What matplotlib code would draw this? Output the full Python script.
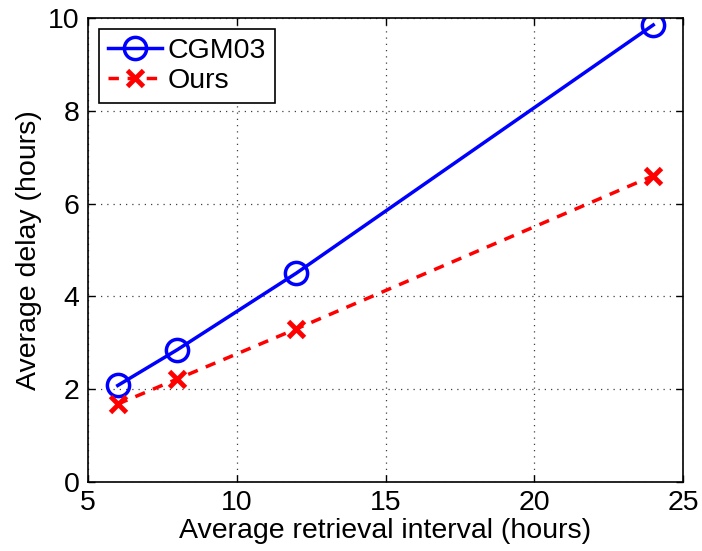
import numpy as np
import matplotlib.pyplot as plt

plt.rcParams['font.family'] = ['Liberation Sans', 'DejaVu Sans']

# retrieval interval (hours) vs average delay (hours)
interval = [6, 8, 12, 24]
cgm03 = [2.08, 2.85, 4.5, 9.85]
ours = [1.68, 2.22, 3.3, 6.6]

fig = plt.figure(figsize=(7.02, 5.51), dpi=100)
ax = fig.add_axes([88/702, 1-482/551, 595/702, 464/551])

ax.plot(interval, cgm03, '-o', color='blue', lw=2.5, ms=16, mew=2.5,
        mfc='none', label='CGM03')
ax.plot(interval, ours, '--x', color='red', lw=2.5, ms=11, mew=3.5,
        dashes=(3, 2.5), label='Ours')

ax.set_xlim(5, 25)
ax.set_ylim(0, 10)
ax.set_xticks([5, 10, 15, 20, 25])
ax.set_yticks([0, 2, 4, 6, 8, 10])
ax.grid(True, color='#404040', linestyle=(0, (1, 4)), linewidth=0.9)
ax.tick_params(direction='in', top=True, right=True, labelsize=20.5,
               length=5, width=1, pad=6)
for s in ax.spines.values():
    s.set_linewidth(1.2)

ax.set_xlabel('Average retrieval interval (hours)', fontsize=20.5, labelpad=1)
ax.set_ylabel('Average delay (hours)', fontsize=20.5, labelpad=4)

leg = ax.legend(loc='upper left', fontsize=20.5, handlelength=1.9,
                fancybox=False, framealpha=1, edgecolor='black',
                borderpad=0.3, labelspacing=0.15, handletextpad=0.2,
                borderaxespad=0.4)
leg.get_frame().set_linewidth(1.2)

fig.savefig('out.png', dpi=100)
